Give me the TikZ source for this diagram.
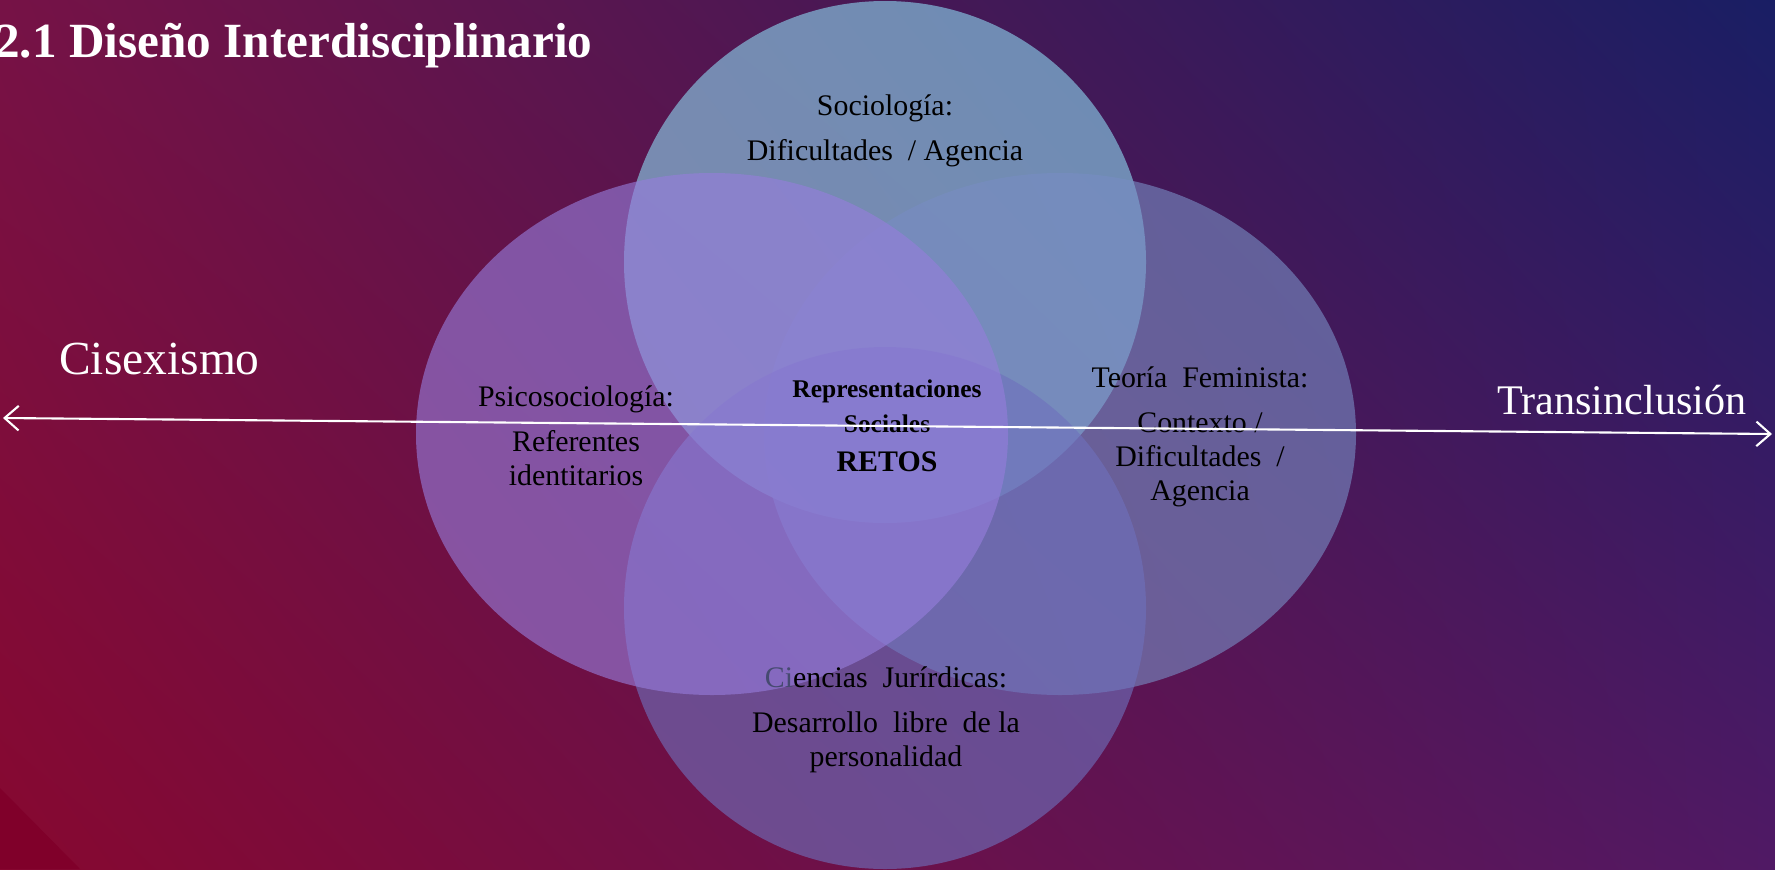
\documentclass[tikz,border=0pt]{standalone}
\usepackage{fontspec}
\setmainfont{Liberation Serif}
\usetikzlibrary{arrows.meta,shadings}

\definecolor{bgUL}{RGB}{118,18,70}
\definecolor{bgUR}{RGB}{25,30,100}
\definecolor{bgLL}{RGB}{135,8,48}
\definecolor{bgLR}{RGB}{80,25,100}
\definecolor{bgCorner}{RGB}{128,0,42}
\definecolor{areaTop}{RGB}{140,212,238}
\definecolor{areaRight}{RGB}{120,140,195}
\definecolor{areaBottom}{RGB}{110,112,188}
\definecolor{areaLeft}{RGB}{150,125,220}
\definecolor{faintCi}{RGB}{70,74,112}

\begin{document}
\begin{tikzpicture}[x=0.02cm, y=-0.02cm, >={Straight Barb[length=8pt, width=14pt]},
	every area/.style={fill opacity=0.62},
	area top/.style={fill=areaTop},
	area right/.style={fill=areaRight},
	area bottom/.style={fill=areaBottom},
	area left/.style={fill=areaLeft},
	area text/.style={align=center, text=black, inner sep=0pt, font=\fontsize{17}{19.5}\selectfont},
	pole text/.style={anchor=base west, text=white, inner sep=0pt}]
% background
\useasboundingbox (0,0) rectangle (1775,869);
\shade[upper left=bgUL, upper right=bgUR, lower left=bgLL, lower right=bgLR] (0,0) rectangle (1775,869);
\fill[bgCorner] (0,788) -- (80,869) -- (0,869) -- cycle;

% title
\node[anchor=base west, text=white, inner sep=0pt, font=\fontsize{28}{32}\bfseries] (title) at (-5,57) {2.1 Diseño Interdisciplinario};

% areas
\foreach \m/\cx/\cy/\rx in {top/885/262/261, right/1060/434/296, bottom/885/608/261, left/712/434/296}
	\fill [every area/.try, area \m/.try] (\cx,\cy) ellipse [x radius=\rx, y radius=261];

% area labels
\node [area text] (soc) at (885,131) {Sociología:\\[6pt] Dificultades \ / Agencia};
\node [area text] (psico) at (576,436) {Psicosociología:\\[6pt] Referentes\\ identitarios};
\node [area text] (teoria) at (1200,437) {Teoría \ Feminista:\\[6pt] Contexto /\\ Dificultades \ /\\ Agencia};
\node [area text] (jur) at (886,720) {{\color{faintCi}Ci}encias \ Jurírdicas:\\[6pt] Desarrollo \ libre \ de la\\ personalidad};
\node [area text, font=\fontsize{14.5}{20}\bfseries] (retos) at (887,426) {Representaciones\\ Sociales\\[2pt] {\fontsize{17}{20}\selectfont RETOS}};

% poles
\node [pole text, font=\fontsize{27}{30}\selectfont] (cis) at (59,374) {Cisexismo};
\node [pole text, font=\fontsize{24}{30}\selectfont] (trans) at (1497,414) {Transinclusión};
\coordinate (cis end) at (3,418);
\coordinate (trans end) at (1772,434);
\draw [<->, white, line width=1.2pt] (cis end) -- (trans end);

\end{tikzpicture}
\end{document}
